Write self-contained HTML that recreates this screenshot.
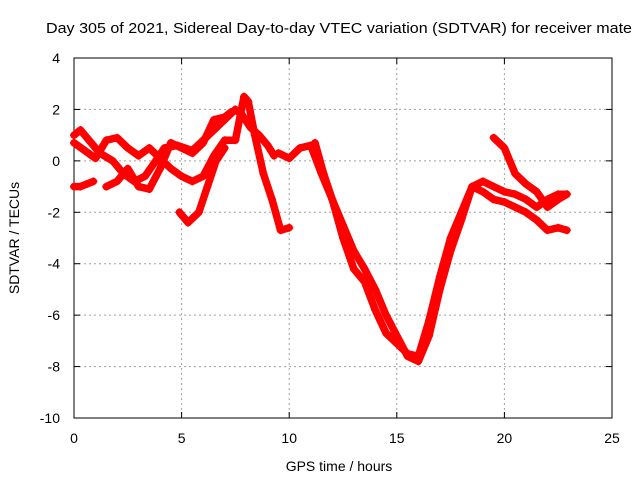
<!DOCTYPE html>
<html><head><meta charset="utf-8"><style>
body{margin:0;background:#fff}
svg{display:block;font-family:"Liberation Sans",sans-serif}
</style></head><body>
<svg id="chart" width="640" height="480">
<rect width="640" height="480" fill="#fff"/>
<text x="46" y="33" font-size="14.3" textLength="586" lengthAdjust="spacingAndGlyphs">Day 305 of 2021, Sidereal Day-to-day VTEC variation (SDTVAR) for receiver mate</text>
<g id="grid"></g>
<g id="axes"></g>
<g id="series"></g>
<text x="339" y="471" font-size="14" text-anchor="middle">GPS time / hours</text>
<text transform="translate(19,238) rotate(-90)" font-size="14" text-anchor="middle">SDTVAR / TECUs</text>
</svg>
<script>
const xTicks=[0,5,10,15,20,25];
const yTicks=[-10,-8,-6,-4,-2,0,2,4];
const arc1=[[0,1.0],[0.3,1.2],[0.7,0.8],[1.2,0.3],[1.8,0],[2.3,-0.5],[2.8,-0.8],[3.3,-0.6],[3.8,0],[4.2,0.5],[4.8,0.6],[5.5,0.4],[6,0.8],[6.5,1.2],[7,1.6],[7.5,2.0],[7.8,1.8],[8.2,1.3],[8.6,1.0],[9,0.6],[9.3,0.2]];
const arc2=[[0,0.7],[0.5,0.4],[1,0.1],[1.5,0.8],[2,0.9],[2.5,0.5],[3,0.2],[3.5,0.5],[4,0.1],[4.5,-0.3],[5,-0.6],[5.5,-0.8],[6,-0.6],[6.5,0.2],[7,0.8],[7.5,0.8],[7.9,2.5],[8.1,2.3],[8.4,1.0],[8.8,-0.5],[9.2,-1.5],[9.6,-2.7],[10,-2.6]];
const arc3=[[0,-1.0],[0.3,-1.0],[0.6,-0.9],[0.9,-0.8]];
const arc4=[[1.5,-1.0],[2,-0.8],[2.5,-0.3],[3,-1.0],[3.5,-1.1],[4,-0.3],[4.5,0.7],[5,0.5],[5.5,0.3],[6,0.7],[6.5,1.6],[7,1.7],[7.3,1.9]];
const arc5=[[4.9,-2.0],[5.3,-2.4],[5.8,-2.0],[6.2,-1.0],[6.6,0],[7,0.5]];
const arc6=[[9.5,0.3],[10,0.1],[10.5,0.5],[11,0.6],[11.5,-0.5],[12,-1.5],[12.5,-2.5],[13,-3.5],[13.5,-4.2],[14,-5.0],[14.5,-6.0],[15,-6.8],[15.5,-7.6],[16,-7.8],[16.5,-6.8],[17,-5.0],[17.5,-3.5],[18,-2.3],[18.5,-1.0],[19,-0.8],[19.5,-1.0],[20,-1.2],[20.5,-1.3],[21,-1.5],[21.5,-1.8],[22,-1.5],[22.5,-1.3],[22.9,-1.3]];
const arc7=[[11.2,0.7],[11.6,-0.5],[12,-1.5],[12.5,-3.0],[13,-4.2],[13.5,-4.7],[14,-5.8],[14.5,-6.7],[15,-7.1],[15.5,-7.5],[16,-7.6],[16.5,-6.2],[17,-4.5],[17.5,-3.0],[18,-2.0],[18.5,-1.0],[19,-1.2],[19.5,-1.5],[20,-1.6],[20.5,-1.8],[21,-2.0],[21.5,-2.3],[22,-2.7],[22.5,-2.6],[22.9,-2.7]];
const arc8=[[19.5,0.9],[20,0.5],[20.5,-0.5],[21,-0.9],[21.5,-1.2],[22,-1.8],[22.5,-1.5],[22.9,-1.3]];
const arcs=[arc1,arc2,arc3,arc4,arc5,arc6,arc7,arc8];
const NS='http://www.w3.org/2000/svg';
const L=74,R=612,T=58,B=418;
const xs=v=>L+(v-0)/25*(R-L);
const ys=v=>B-(v+10)/14*(B-T);
function mk(tag,at,parent){const e=document.createElementNS(NS,tag);for(const k in at)e.setAttribute(k,at[k]);parent.appendChild(e);return e;}
const grid=document.getElementById('grid'),axes=document.getElementById('axes'),ser=document.getElementById('series');
xTicks.forEach(t=>{
  if(t>0&&t<25){const g=mk('line',{x1:xs(t),x2:xs(t),y1:T,y2:B,stroke:'#a0a0a0','stroke-dasharray':'2,3'},grid);
  }
  mk('line',{x1:xs(t),x2:xs(t),y1:B,y2:B-6,stroke:'#000'},axes);
  mk('line',{x1:xs(t),x2:xs(t),y1:T,y2:T+6,stroke:'#000'},axes);
  const tx=mk('text',{x:xs(t),y:B+25,'font-size':14,'text-anchor':'middle'},axes);tx.textContent=t;
  
});
yTicks.forEach(t=>{
  if(t>-10&&t<4){const g=mk('line',{x1:L,x2:R,y1:ys(t),y2:ys(t),stroke:'#a0a0a0','stroke-dasharray':'2,3'},grid);
  }
  mk('line',{x1:L,x2:L+6,y1:ys(t),y2:ys(t),stroke:'#000'},axes);
  mk('line',{x1:R,x2:R-6,y1:ys(t),y2:ys(t),stroke:'#000'},axes);
  const tx=mk('text',{x:L-14,y:ys(t)+5,'font-size':14,'text-anchor':'end'},axes);tx.textContent=t;
  
});
mk('rect',{x:L,y:T,width:R-L,height:B-T,fill:'none',stroke:'#000'},axes);
arcs.forEach((a,i)=>{
  const p=mk('polyline',{points:a.map(d=>xs(d[0])+','+ys(d[1])).join(' '),fill:'none',stroke:'#ff0000','stroke-width':7.5,'stroke-linejoin':'round','stroke-linecap':'round'},ser);
  
  
  a.forEach(d=>{
    const m=mk('path',{d:`M${xs(d[0])-4},${ys(d[1])}h8M${xs(d[0])},${ys(d[1])-4}v8`,stroke:'#ff0000','stroke-width':1.5},ser);
    
    
  });
});
</script>
</body></html>
